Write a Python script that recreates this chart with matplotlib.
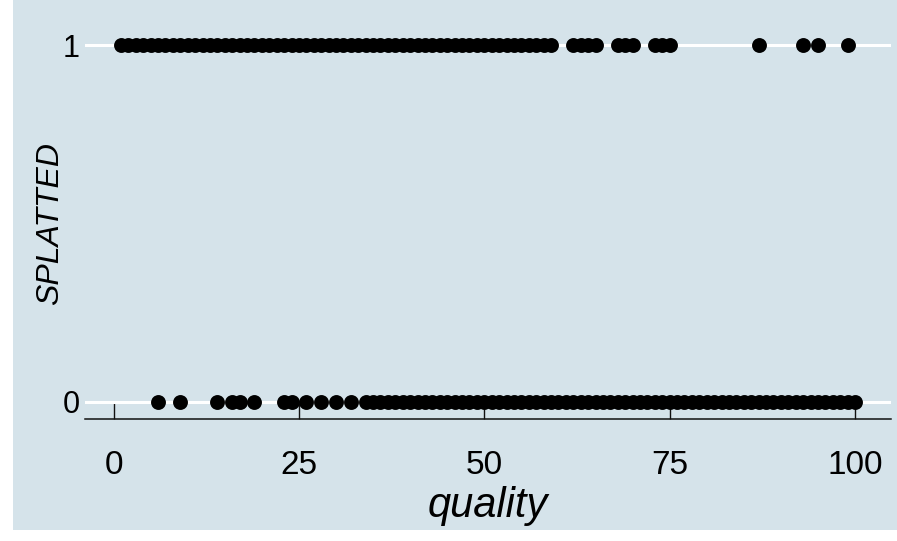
import matplotlib.pyplot as plt
from matplotlib.patches import Rectangle

# quality scores of splatted (1) and not splatted (0) observations
quality_splatted = [1, 2, 3, 4, 5, 6, 7, 8, 9, 10, 11, 12, 13, 14, 15, 16, 17, 18, 19, 20,
                    21, 22, 23, 24, 25, 26, 27, 28, 29, 30, 31, 32, 33, 34, 35, 36, 37, 38, 39, 40,
                    41, 42, 43, 44, 45, 46, 47, 48, 49, 50, 51, 52, 53, 54, 55, 56, 57, 58, 59,
                    62, 63, 64, 65, 68, 69, 70, 73, 74, 75, 87, 93, 95, 99]
quality_intact = [6, 9, 14, 16, 17, 19, 23, 24, 26, 28, 30, 32,
                  34, 35, 36, 37, 38, 39, 40, 41, 42, 43, 44, 45, 46, 47, 48, 49, 50,
                  51, 52, 53, 54, 55, 56, 57, 58, 59, 60, 61, 62, 63, 64, 65, 66, 67, 68, 69, 70,
                  71, 72, 73, 74, 75, 76, 77, 78, 79, 80, 81, 82, 83, 84, 85, 86, 87, 88, 89, 90,
                  91, 92, 93, 94, 95, 96, 97, 98, 99, 100]
xticks = [0, 25, 50, 75, 100]
yticks = [0, 1]

bg = '#d5e3ea'
plt.rcParams['font.family'] = ['Liberation Sans', 'DejaVu Sans']

fig = plt.figure(figsize=(8.97, 5.41), dpi=100, facecolor='white')
# shaded graph region behind the axes
fig.patches.append(Rectangle((13 / 897, 11 / 541), 1 - 13 / 897, 1 - 11 / 541,
                             transform=fig.transFigure, facecolor=bg, edgecolor='none',
                             zorder=-10))

ax = fig.add_axes([85 / 897, 122 / 541, 806 / 897, 391 / 541])
ax.set_facecolor(bg)

ax.scatter(quality_splatted, [1] * len(quality_splatted), s=115, color='black', zorder=3,
           linewidths=0, clip_on=False)
ax.scatter(quality_intact, [0] * len(quality_intact), s=115, color='black', zorder=3,
           linewidths=0, clip_on=False)

ax.set_xlim(-3.85, 104.85)
ax.set_ylim(-0.048, 1.048)

for sp in ['top', 'right', 'left']:
    ax.spines[sp].set_visible(False)
ax.spines['bottom'].set_linewidth(1.1)
ax.spines['bottom'].set_color('#111111')

ax.set_xticks(xticks)
ax.set_yticks(yticks)
ax.tick_params(axis='x', direction='in', length=12, width=1, color='#111111',
               labelsize=24, pad=22)
ax.tick_params(axis='y', length=0, labelsize=22, pad=4)
ax.yaxis.grid(True, color='white', linewidth=2.2)
ax.set_axisbelow(True)

ax.set_xlabel('quality', fontsize=30, style='italic', labelpad=4)
ax.set_ylabel('SPLATTED', fontsize=23, style='italic', va='center')
ax.yaxis.set_label_coords(-0.043, 0.5)

fig.savefig('out.png', dpi=100, facecolor=fig.get_facecolor())
